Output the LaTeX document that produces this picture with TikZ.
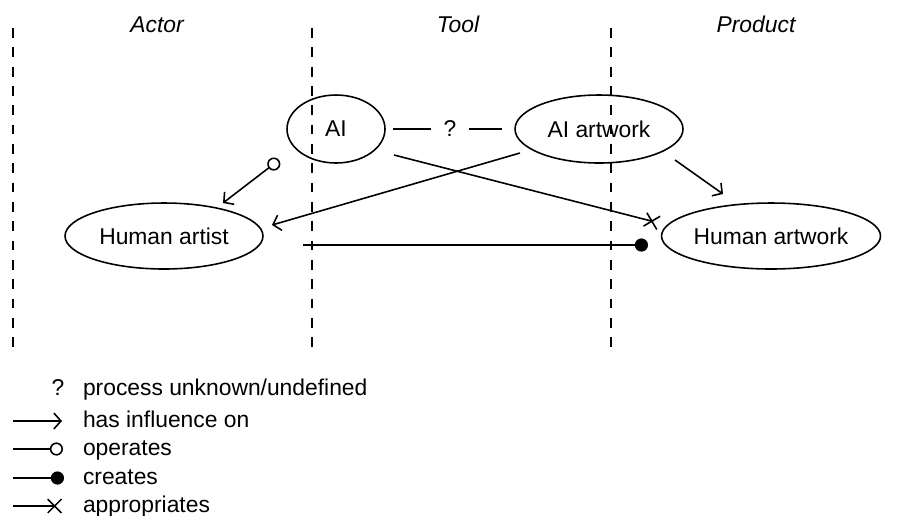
\documentclass[tikz,border=0pt]{standalone}
\usepackage{fontspec}
\setmainfont{Liberation Sans}
\usetikzlibrary{arrows.meta, shapes.geometric}

\begin{document}
\begin{tikzpicture}[x=0.02cm, y=-0.02cm, font=\fontsize{13}{15}\selectfont, line width=0.9pt,
        every node/.style={outer sep=0pt},
        blob/.style={draw, ellipse, inner sep=0pt},
        sep/.style={dash pattern=on 5.6pt off 5.4pt},
        header/.style={anchor=base, font=\fontsize{13}{15}\selectfont\itshape},
        legtext/.style={anchor=base west, inner sep=0pt},
        infl/.style={-{Straight Barb[length=4pt,width=9pt]}},
        oper/.style={{Circle[open,length=7.5pt]}-{Straight Barb[length=4pt,width=9pt]}},
        opertip/.style={-{Circle[open,length=7.5pt]}},
        creat/.style={-{Circle[length=7.5pt]}},
        appr/.style={-{Rays[n=4,length=11pt]}}]
        \useasboundingbox (0,0) rectangle (901,515);

        \foreach \x in {13, 312, 611}
            \draw[sep] (\x,28) -- (\x,355);

        \node[header] (actor) at (157,32) {Actor};
        \node[header] (tool) at (458,32) {Tool};
        \node[header] (product) at (756,32) {Product};

        \node[blob, minimum width=1.96cm, minimum height=1.36cm] (ai) at (336,129) {AI};
        \node[blob, minimum width=3.36cm, minimum height=1.36cm] (aiart) at (599,129) {AI artwork};
        \node[blob, minimum width=3.96cm, minimum height=1.32cm] (hartist) at (164,236) {Human artist};
        \node[blob, minimum width=4.26cm, minimum height=1.32cm] (hartwork) at (771,236) {Human artwork};

        \draw[shorten <=0.16cm, shorten >=0.26cm] (ai) -- node[fill=white, inner xsep=7.2pt] (unknown) {?} (aiart);
        \draw[oper] ([shift={(-57,31)}]ai.center) -- ([shift={(59,-33)}]hartist.center);
        \draw[infl] ([shift={(-79,24)}]aiart.center) -- ([shift={(108,-11)}]hartist.center);
        \draw[appr] ([shift={(58,26)}]ai.center) -- ([shift={(-112,-13)}]hartwork.center);
        \draw[creat] ([shift={(139,9)}]hartist.center) -- ([shift={(-123,9)}]hartwork.center);
        \draw[infl] ([shift={(76,31)}]aiart.center) -- ([shift={(-48,-42)}]hartwork.center);

        % legend
        \node[anchor=base] (lq) at (58,395) {?};
        \node[legtext] (t1) at (83,395) {process unknown/undefined};
        \node[legtext] (t2) at (83,427) {has influence on};
        \node[legtext] (t3) at (83,455) {operates};
        \node[legtext] (t4) at (83,484) {creates};
        \node[legtext] (t5) at (83,512) {appropriates};
        \coordinate (l2) at (13,421);
        \coordinate (l3) at (13,449);
        \coordinate (l4) at (13,478);
        \coordinate (l5) at (13,506);
        \draw[infl] (l2) -- ([shift={(-21,-6)}]t2.base west);
        \draw[opertip] (l3) -- ([shift={(-20,-6)}]t3.base west);
        \draw[creat] (l4) -- ([shift={(-19,-6)}]t4.base west);
        \draw[appr] (l5) -- ([shift={(-21,-6)}]t5.base west);
    \end{tikzpicture}
\end{document}
